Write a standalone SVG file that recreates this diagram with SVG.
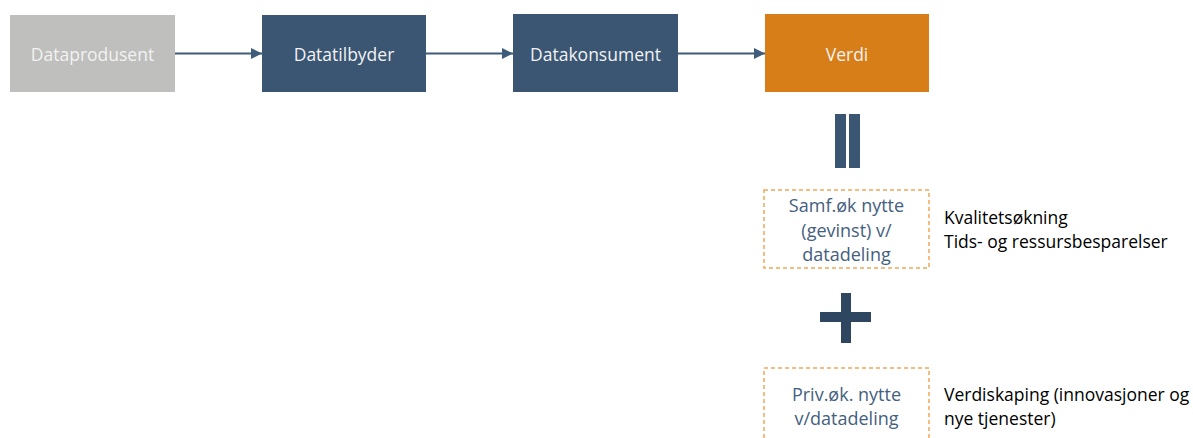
<svg xmlns="http://www.w3.org/2000/svg" width="1193" height="438" viewBox="0 0 1193 438">
<defs>
<style>
.nt{font-family:"Open Sans","Liberation Sans",sans-serif;font-size:17.5px;fill:#F2F2F2;text-anchor:middle}
.dt{font-family:"Open Sans","Liberation Sans",sans-serif;font-size:18px;fill:#44607E;text-anchor:middle}
.rt{font-family:"Open Sans","Liberation Sans",sans-serif;font-size:17.5px;fill:#000}
.dash{fill:none;stroke:#F2A65A;stroke-width:1.5;stroke-dasharray:4 3}
.con{stroke:#3F5C7A;stroke-width:2;fill:none}
.sym{fill:#3A5673}
</style>
<marker id="ah" viewBox="0 0 10 10" refX="10" refY="5" markerWidth="11" markerHeight="11" markerUnits="userSpaceOnUse" orient="auto">
<path d="M0,0 L10,5 L0,10 Z" fill="#3F5C7A"/>
</marker>
</defs>
<rect width="1193" height="438" fill="#fff"/>
<g id="connectors">
<line class="con" x1="175" y1="53.5" x2="262" y2="53.5" marker-end="url(#ah)"/>
<line class="con" x1="426" y1="53.5" x2="513" y2="53.5" marker-end="url(#ah)"/>
<line class="con" x1="678" y1="53.5" x2="765" y2="53.5" marker-end="url(#ah)"/>
</g>
<g id="dataprodusent">
<rect x="10" y="15" width="165" height="77" fill="#BFBFBD"/>
<text class="nt" x="92.5" y="61">Dataprodusent</text>
</g>
<g id="datatilbyder">
<rect x="262" y="15" width="164" height="77" fill="#3A5673"/>
<text class="nt" x="344" y="61">Datatilbyder</text>
</g>
<g id="datakonsument">
<rect x="513" y="14" width="165" height="78" fill="#3A5673"/>
<text class="nt" x="595.5" y="61">Datakonsument</text>
</g>
<g id="verdi">
<rect x="765" y="14" width="164" height="78" fill="#D77E19"/>
<text class="nt" x="847" y="61">Verdi</text>
</g>
<g id="equals">
<rect class="sym" x="835" y="114" width="11" height="54"/>
<rect class="sym" x="849" y="114" width="11" height="54"/>
</g>
<g id="samf">
<rect class="dash" x="764" y="190" width="165" height="78"/>
<text class="dt" x="846.5" y="212">Samf.øk nytte</text>
<text class="dt" x="846.5" y="237">(gevinst) v/</text>
<text class="dt" x="846.5" y="261">datadeling</text>
<text class="rt" x="944" y="224">Kvalitetsøkning</text>
<text class="rt" x="944" y="248">Tids- og ressursbesparelser</text>
</g>
<g id="plus">
<rect x="820" y="312" width="51" height="10" fill="#2E4660"/>
<rect x="841" y="293" width="10" height="50" fill="#2E4660"/>
</g>
<g id="priv">
<rect class="dash" x="764" y="368" width="165" height="80"/>
<text class="dt" x="846.5" y="401">Priv.øk. nytte</text>
<text class="dt" x="846.5" y="425">v/datadeling</text>
<text class="rt" x="944" y="401">Verdiskaping (innovasjoner og</text>
<text class="rt" x="944" y="425">nye tjenester)</text>
</g>
</svg>
